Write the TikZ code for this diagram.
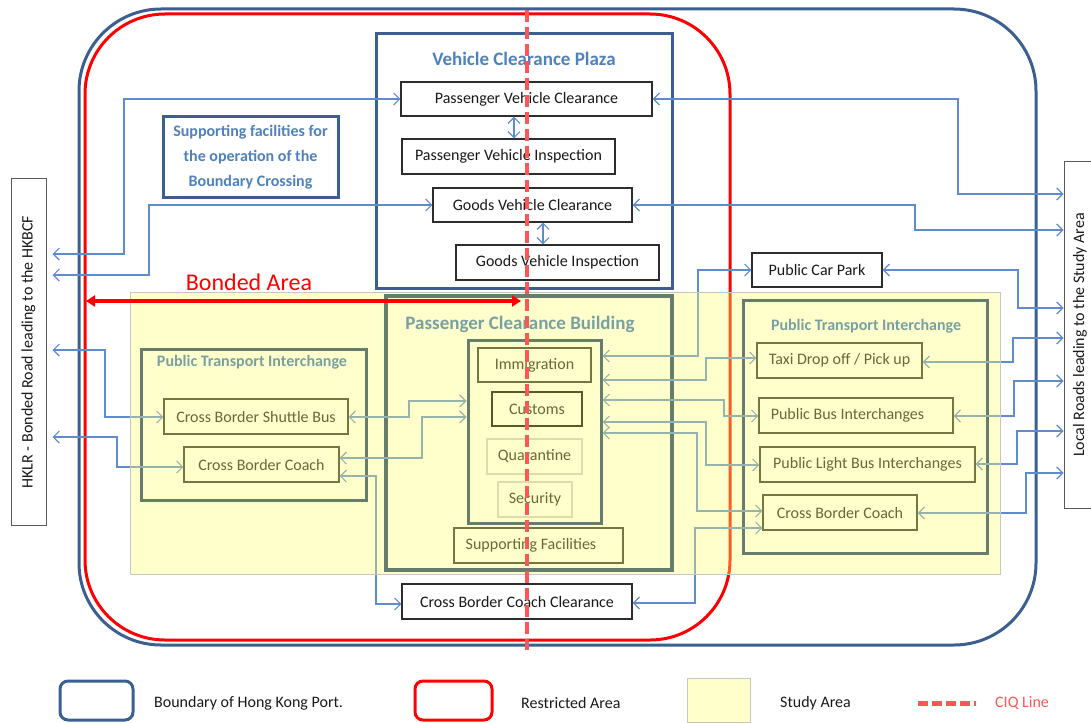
\documentclass[tikz,border=0pt]{standalone}
\usepackage{fontspec}
\setmainfont{Carlito}
\usetikzlibrary{arrows.meta,calc}
\definecolor{portblue}{RGB}{59,95,145}
\definecolor{titleblue}{RGB}{79,129,189}
\definecolor{grptitle}{RGB}{120,160,162}
\definecolor{connblue}{RGB}{95,140,205}
\definecolor{pcbcol}{RGB}{20,55,110}
\definecolor{ovl}{RGB}{255,255,109}
\definecolor{studyfill}{RGB}{255,255,204}
\definecolor{ciqred}{RGB}{255,85,85}
\definecolor{boxline}{RGB}{45,45,45}
\definecolor{txt}{RGB}{25,25,25}
\newcommand{\myfs}[1]{\fontsize{#1}{#1}\selectfont}
\tikzset{
  plain/.style={draw=boxline, line width=1.1pt, fill=white, rectangle, inner sep=0pt, font=\myfs{16}, text=txt},
  lightbox/.style={plain, draw=gray!40},
  grp/.style={draw=pcbcol, line width=3.2pt, rectangle, inner sep=0pt},
  vgrp/.style={draw=portblue, line width=3pt, rectangle, inner sep=0pt},
  ttl/.style={font=\bfseries\myfs{19}, text=titleblue, inner sep=0pt},
  sttl/.style={font=\bfseries\myfs{16}, text=grptitle, inner sep=0pt},
  bi/.style={draw=connblue, line width=1.2pt, <->, >={Straight Barb[length=6pt,width=12pt]}},
  legtxt/.style={anchor=west, inner sep=0pt, font=\myfs{16}, text=txt},
}
\begin{document}
\begin{tikzpicture}[x=1pt,y=-1pt]
\useasboundingbox (0,0) rectangle (1091,722);

% boundaries
\draw[portblue, line width=3pt, rounded corners=82pt] (79,9) rectangle (1036,645);
\draw[red, line width=3pt, rounded corners=80pt] (85,14) rectangle (730,640);

% side road boxes
\node[draw=gray!70!black, line width=1pt, minimum width=35, minimum height=346, inner sep=0pt] (hklr) at (28.5,352) {};
\node[rotate=90, font=\myfs{16}, text=txt] (hklrt) at (hklr.center) {HKLR - Bonded Road leading to the HKBCF};
\node[draw=gray!70!black, line width=1pt, minimum width=36, minimum height=346, inner sep=0pt] (local) at (1082,335) {};
\node[rotate=90, font=\myfs{16}, text=txt] (localt) at (1080,335) {Local Roads leading to the Study Area};
\coordinate (hkE) at ([xshift=6pt]hklr.east);

% Vehicle clearance plaza
\node[vgrp, minimum width=296, minimum height=254] (vcp) at (524,161) {};
\node[ttl] (vcpt) at (524,59) {Vehicle Clearance Plaza};
\node[plain, minimum width=251, minimum height=34] (pvc) at (526.5,99) {Passenger Vehicle Clearance};
\node[plain, minimum width=213, minimum height=35] (pvi) at (508.5,156.5) {Passenger Vehicle Inspection};
\node[plain, minimum width=199, minimum height=34] (gvc) at (532.5,205) {Goods Vehicle Clearance};
\node[plain, minimum width=203, minimum height=35] (gvi) at (557.5,262.5) {Goods Vehicle Inspection};

% supporting facilities note
\node[vgrp, minimum width=175, minimum height=80, align=center, font=\bfseries\fontsize{16}{25}\selectfont, text=titleblue] (sup) at (250.5,157) {Supporting facilities for\\the operation of the\\Boundary Crossing};

% other boxes
\node[plain, minimum width=130, minimum height=34] (pcp) at (817,270) {Public Car Park};
\node[plain, minimum width=230, minimum height=35] (cbcc) at (517,601.5) {Cross Border Coach Clearance};

% connectors
\draw[bi] (hkE |- 0,254) -| (124,99) -- (pvc.west);
\draw[bi] (hkE |- 0,275) -| (149,205) -- (gvc.west);
\draw[bi] (pvc.east) -| (958,194) -- (local.west |- 0,194);
\draw[bi] (gvc.east) -| (915,230) -- (local.west |- 0,230);
\draw[bi] (pvc.south -| 514,0) -- (pvi.north -| 514,0);
\draw[bi] (gvc.south -| 543,0) -- (gvi.north -| 543,0);
\draw[bi] (pcp.east) -| (1018,308) -- (local.west |- 0,308);

% Passenger clearance building
\node[grp, minimum width=286, minimum height=274] (pcb) at (529,433) {};
\node[grp, line width=3pt, minimum width=133, minimum height=183] (inner) at (534.5,431.5) {};
\node[plain, line width=1.3pt, minimum width=113, minimum height=34] (imm) at (534.5,365) {Immigration};
\node[plain, line width=1.6pt, draw=black, minimum width=90, minimum height=34] (cus) at (537,409) {Customs};
\node[lightbox, minimum width=95, minimum height=35] (qua) at (534.5,456.5) {Quarantine};
\node[lightbox, minimum width=74, minimum height=35] (sec) at (535,499.5) {Security};
\node[plain, minimum width=169, minimum height=35] (supf) at (538.5,545.5) {\hspace*{-15pt}Supporting Facilities};

% Left PTI
\node[grp, line width=3pt, minimum width=225, minimum height=151] (lpti) at (253.5,424.5) {};
\node[plain, minimum width=184, minimum height=35] (cbsb) at (256,416.5) {Cross Border Shuttle Bus};
\node[plain, minimum width=155, minimum height=35] (lcbc) at (261.5,464.5) {Cross Border Coach};

% Right PTI
\node[grp, line width=3pt, minimum width=244, minimum height=253] (rpti) at (865,426.5) {};
\node[plain, minimum width=165, minimum height=35] (taxi) at (839.5,360.5) {Taxi Drop off / Pick up};
\node[plain, minimum width=194, minimum height=35] (pbi) at (856,415.5) {\hspace*{-17pt}Public Bus Interchanges};
\node[plain, minimum width=215, minimum height=35] (plb) at (867.5,464.5) {Public Light Bus Interchanges};
\node[plain, minimum width=154, minimum height=35] (rcbc) at (840,512.5) {Cross Border Coach};

% connectors in study area
\draw[bi] (inner.east |- 0,356) -| (698,270) -- (pcp.west);
\draw[bi] (inner.east |- 0,380) -| (706,358) -- (taxi.west |- 0,358);
\draw[bi] (inner.east |- 0,400) -| (724,416) -- (pbi.west |- 0,416);
\draw[bi] (inner.east |- 0,422) -| (706,465) -- (plb.west |- 0,465);
\draw[bi] (inner.east |- 0,433) -| (697,511) -- (rcbc.west |- 0,511);
\draw[bi] (cbcc.east |- 0,603) -| (695,528) -- (rcbc.west |- 0,528);
\draw[bi] (cbsb.east |- 0,417) -| (409,401) -- (inner.west |- 0,401);
\draw[bi] (lcbc.east |- 0,458) -| (422,417) -- (inner.west |- 0,417);
\draw[bi] (lcbc.east |- 0,476) -| (376,604) -- (cbcc.west |- 0,604);
\draw[bi] (hkE |- 0,350) -| (105,417) -- (cbsb.west |- 0,417);
\draw[bi] (hkE |- 0,437) -| (117,467) -- (lcbc.west |- 0,467);
\draw[bi] (taxi.east |- 0,362) -| (1013,338) -- (local.west |- 0,338);
\draw[bi] (pbi.east |- 0,416) -| (1014,381) -- (local.west |- 0,381);
\draw[bi] (plb.east |- 0,464) -| (1017,431) -- (local.west |- 0,431);
\draw[bi] (rcbc.east |- 0,513) -| (1026,473) -- (local.west |- 0,473);

% study area overlay
\node[rectangle, inner sep=0pt, fill=ovl, fill opacity=0.35, draw=gray!45, draw opacity=1, line width=0.8pt, minimum width=870, minimum height=282] (study) at (565,433) {};

% group titles
\node[sttl, font=\bfseries\myfs{19}] (pcbt) at (520,324) {Passenger Clearance Building};
\node[sttl] (lptit) at (252,362) {Public Transport Interchange};
\node[sttl] (rptit) at (866,326) {Public Transport Interchange};

% bonded area
\node[text=red, font=\myfs{24}, inner sep=0pt] (bonded) at (249,282) {Bonded Area};
\coordinate (bondL) at (86,301);
\coordinate (bondR) at (521,301);
\draw[red, line width=3.5pt, {Triangle[length=9pt,width=11pt]}-{Triangle[length=9pt,width=11pt]}] (bondL) -- (bondR);

% CIQ line
\coordinate (ciqT) at (527,10);
\coordinate (ciqB) at (527,650);
\draw[ciqred, line width=4pt, dash pattern=on 12pt off 5pt] (ciqT) -- (ciqB);

% legend
\node[draw=portblue, line width=3pt, rounded corners=8pt, minimum width=73, minimum height=39, inner sep=0pt] (lg1) at (96.5,700.5) {};
\node[legtxt] (lg1t) at (154,703) {Boundary of Hong Kong Port.};
\node[draw=red, line width=3pt, rounded corners=8pt, minimum width=77, minimum height=39, inner sep=0pt] (lg2) at (453.5,700.5) {};
\node[legtxt] (lg2t) at (521,703) {Restricted Area};
\node[fill=studyfill, draw=gray!45, line width=0.8pt, minimum width=63, minimum height=44, inner sep=0pt] (lg3) at (718.5,700) {};
\node[legtxt] (lg3t) at (780,703) {Study Area};
\coordinate (lg4a) at (918,703);
\coordinate (lg4b) at (976,703);
\draw[ciqred, line width=5pt, dash pattern=on 10pt off 4pt] (lg4a) -- (lg4b);
\node[legtxt, text=ciqred] (lg4t) at (995,703) {CIQ Line};
\end{tikzpicture}
\end{document}
